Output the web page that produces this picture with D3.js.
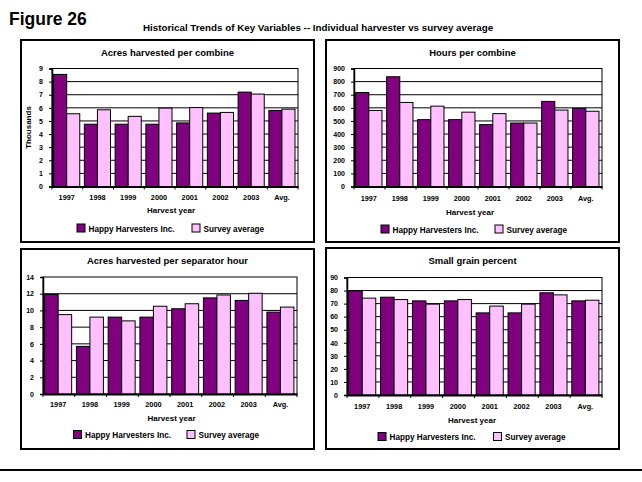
<!DOCTYPE html>
<html>
<head>
<meta charset="utf-8">
<script src="https://cdn.jsdelivr.net/npm/d3@7"></script>
<style>
  html, body { margin: 0; padding: 0; background: #fff; }
  svg { display: block; font-family: "Liberation Sans", Arial, sans-serif; font-weight: bold; }
</style>
</head>
<body>
<svg id="chart" width="642" height="482"></svg>
<script>
// Harvest years shown on every panel
const categories = ["1997", "1998", "1999", "2000", "2001", "2002", "2003", "Avg."];

// Acres harvested per combine (thousands)
const acresHappy  = [8.55, 4.75, 4.75, 4.75, 4.85, 5.6, 7.2, 5.8];
const acresSurvey = [5.55, 5.85, 5.35, 5.98, 6.02, 5.65, 7.05, 5.9];
const acresTicks  = [0, 1, 2, 3, 4, 5, 6, 7, 8, 9];

// Hours per combine
const hoursHappy  = [717, 837, 510, 510, 472, 484, 649, 596];
const hoursSurvey = [580, 641, 613, 567, 556, 484, 583, 574];
const hoursTicks  = [0, 100, 200, 300, 400, 500, 600, 700, 800, 900];

// Acres harvested per separator hour
const sepHappy  = [11.9, 5.7, 9.2, 9.2, 10.2, 11.5, 11.2, 9.8];
const sepSurvey = [9.5, 9.2, 8.75, 10.5, 10.8, 11.85, 12.05, 10.4];
const sepTicks  = [0, 2, 4, 6, 8, 10, 12, 14];

// Small grain percent
const grainHappy  = [79.8, 74.9, 72.1, 72.1, 62.9, 62.9, 78.3, 72.1];
const grainSurvey = [74.2, 73.1, 69.6, 73.1, 68.1, 69.6, 76.7, 72.6];
const grainTicks  = [0, 10, 20, 30, 40, 50, 60, 70, 80, 90];

const seriesNames = ["Happy Harvesters Inc.", "Survey average"];
const colors = ["#800080", "#FFC0FF"];

const svg = d3.select("#chart");

// Page heading
svg.append("text").attr("x", 9).attr("y", 25)
  .attr("font-size", 17.5).text("Figure 26");
svg.append("text").attr("x", 143).attr("y", 31)
  .attr("font-size", 9.8).text("Historical Trends of Key Variables -- Individual harvester vs survey average");

// Rule along the bottom of the page
svg.append("line").attr("x1", 0).attr("x2", 642).attr("y1", 470).attr("y2", 470)
  .attr("stroke", "#000").attr("stroke-width", 2);

const panels = [
  { title: "Acres harvested per combine", a: acresHappy, b: acresSurvey, ticks: acresTicks,
    box: [21, 40, 314, 242], plot: [52, 68.5, 298, 186.5], yLabel: "Thousands", yLabelX: 31,
    titleY: 55.5, catY: 200, axisTitle: [171, 213], legendY: 228.5, legendX: [77, 192] },
  { title: "Hours per combine", a: hoursHappy, b: hoursSurvey, ticks: hoursTicks,
    box: [326, 40, 619, 242], plot: [354, 68.5, 602, 186.5],
    titleY: 55.5, catY: 201, axisTitle: [470, 214.5], legendY: 229.5, legendX: [381, 495] },
  { title: "Acres harvested per separator hour", a: sepHappy, b: sepSurvey, ticks: sepTicks,
    box: [21, 249, 314, 449], plot: [43, 277, 297, 394],
    titleY: 263.5, catY: 407, axisTitle: [171.5, 421], legendY: 435, legendX: [73.5, 187] },
  { title: "Small grain percent", a: grainHappy, b: grainSurvey, ticks: grainTicks,
    box: [326, 248, 619, 449], plot: [347, 277.5, 602, 395],
    titleY: 263.5, catY: 408.5, axisTitle: [472, 423], legendY: 437, legendX: [378, 493.5] }
];

panels.forEach(p => {
  const g = svg.append("g");
  const [bx0, by0, bx1, by1] = p.box;
  const [px0, py0, px1, py1] = p.plot;

  // Panel frame
  g.append("rect").attr("x", bx0).attr("y", by0)
    .attr("width", bx1 - bx0).attr("height", by1 - by0)
    .attr("fill", "#fff").attr("stroke", "#000").attr("stroke-width", 2);

  g.append("text").attr("x", (bx0 + bx1) / 2).attr("y", p.titleY)
    .attr("text-anchor", "middle").attr("font-size", 9.5).text(p.title);

  const x = d3.scaleBand().domain(categories).range([px0, px1])
    .paddingInner(0.15).paddingOuter(0.075).align(0.35);
  const xs = d3.scaleBand().domain([0, 1]).range([0, x.bandwidth()]);
  const yMax = p.ticks[p.ticks.length - 1];
  const y = d3.scaleLinear().domain([0, yMax]).range([py1, py0]);

  // Gridlines
  g.append("g").selectAll("line").data(p.ticks.filter(t => t > 0 && t < yMax)).join("line")
    .attr("x1", px0).attr("x2", px1)
    .attr("y1", d => y(d)).attr("y2", d => y(d))
    .attr("stroke", "#000").attr("stroke-width", 1);

  // Plot frame (top and right edges)
  g.append("rect").attr("x", px0).attr("y", py0)
    .attr("width", px1 - px0).attr("height", py1 - py0)
    .attr("fill", "none").attr("stroke", "#000").attr("stroke-width", 1);

  // Bars
  const rows = categories.map((c, i) => [
    { c, s: 0, v: p.a[i] }, { c, s: 1, v: p.b[i] }
  ]).flat();
  g.append("g").selectAll("rect").data(rows).join("rect")
    .attr("x", d => x(d.c) + xs(d.s))
    .attr("y", d => y(d.v))
    .attr("width", xs.bandwidth())
    .attr("height", d => y(0) - y(d.v))
    .attr("fill", d => colors[d.s])
    .attr("stroke", "#000").attr("stroke-width", 1);

  // Value axis
  const yAxis = d3.axisLeft(y).tickValues(p.ticks).tickSize(3).tickPadding(6);
  const ya = g.append("g").attr("transform", `translate(${px0},0)`).call(yAxis);
  ya.select(".domain").attr("stroke", "#000").attr("stroke-width", 1.5);
  ya.selectAll("text").attr("font-size", 7).attr("font-family", "Liberation Sans, Arial, sans-serif")
    .attr("font-weight", "bold").attr("fill", "#000");

  // Category axis
  const xAxis = d3.axisBottom(x).tickSize(0).tickPadding(0);
  const xa = g.append("g").attr("transform", `translate(0,${py1})`).call(xAxis);
  xa.select(".domain").attr("stroke", "#000").attr("stroke-width", 2);
  xa.selectAll("text").attr("y", p.catY - py1).attr("dy", 0)
    .attr("font-size", 7.3).attr("font-family", "Liberation Sans, Arial, sans-serif")
    .attr("font-weight", "bold").attr("fill", "#000");
  // Small marks between categories
  g.append("g").selectAll("line").data(d3.range(categories.length + 1)).join("line")
    .attr("x1", i => px0 + i * (px1 - px0) / categories.length)
    .attr("x2", i => px0 + i * (px1 - px0) / categories.length)
    .attr("y1", py1).attr("y2", py1 + 3)
    .attr("stroke", "#000").attr("stroke-width", 1);

  g.append("text").attr("x", p.axisTitle[0]).attr("y", p.axisTitle[1])
    .attr("text-anchor", "middle").attr("font-size", 8).text("Harvest year");

  if (p.yLabel) {
    g.append("text")
      .attr("transform", `translate(${p.yLabelX},${(py0 + py1) / 2}) rotate(-90)`)
      .attr("text-anchor", "middle").attr("font-size", 8).text(p.yLabel);
  }

  // Legend
  seriesNames.forEach((name, i) => {
    const lx = p.legendX[i];
    g.append("rect").attr("x", lx).attr("y", p.legendY - 4.5)
      .attr("width", 8).attr("height", 8)
      .attr("fill", colors[i]).attr("stroke", "#000").attr("stroke-width", 1);
    g.append("text").attr("x", lx + 11.5).attr("y", p.legendY + 3)
      .attr("font-size", 8.2).text(name);
  });
});
</script>
</body>
</html>
